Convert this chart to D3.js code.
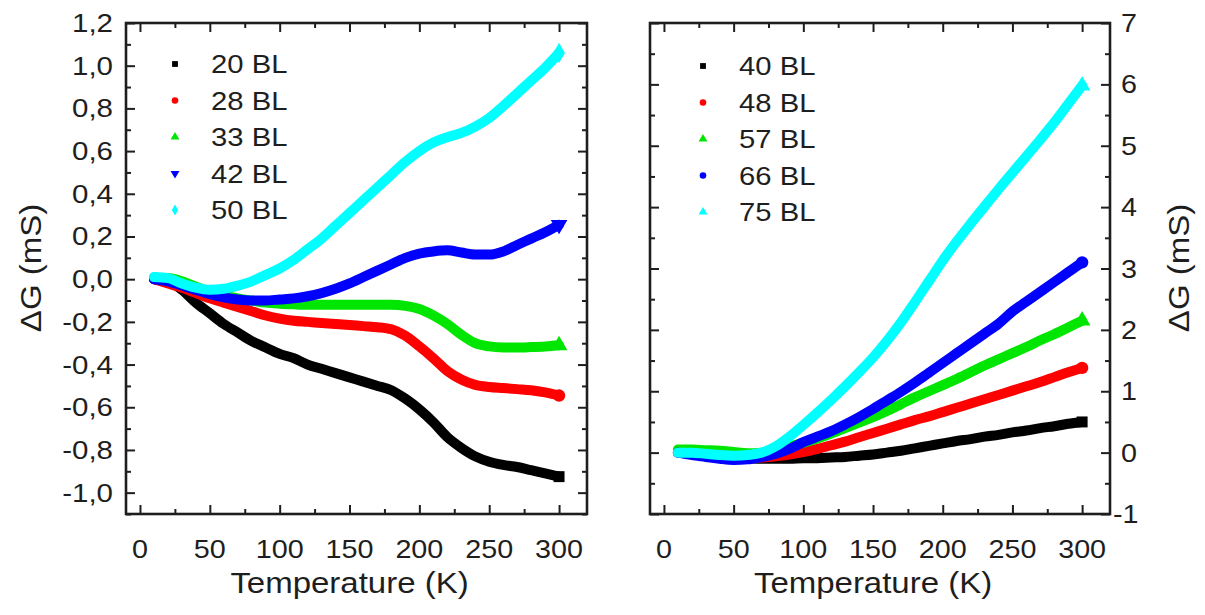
<!DOCTYPE html>
<html>
<head>
<meta charset="utf-8">
<script src="https://cdn.jsdelivr.net/npm/d3@7"></script>
<style>
  body { margin: 0; background: #fff; }
  text { font-family: "Liberation Sans", Arial, sans-serif; fill: #1e1e1e; }
</style>
</head>
<body>
<svg id="chart" width="1205" height="615"></svg>
<script>
// Temperature grid (K) shared by every series
const temps = [10, 20, 30, 40, 50, 60, 70, 80, 90, 100, 110, 120, 130, 140, 150,
               160, 170, 180, 190, 200, 210, 220, 230, 240, 250, 260, 270, 280, 290, 300];

// Left panel: ΔG (mS) for thinner films
const leftNames = ["20 BL", "28 BL", "33 BL", "42 BL", "50 BL"];
const bl20 = [0.0, -0.01, -0.05, -0.11, -0.16, -0.21, -0.25, -0.29, -0.32, -0.35, -0.37, -0.40, -0.42, -0.44, -0.46,
              -0.48, -0.50, -0.52, -0.56, -0.61, -0.67, -0.74, -0.79, -0.83, -0.855, -0.87, -0.88, -0.895, -0.91, -0.925];
const bl28 = [0.0, -0.02, -0.04, -0.065, -0.09, -0.11, -0.13, -0.15, -0.17, -0.185, -0.195, -0.2, -0.205, -0.21, -0.215,
              -0.22, -0.225, -0.235, -0.265, -0.315, -0.37, -0.43, -0.47, -0.495, -0.505, -0.51, -0.515, -0.52, -0.53, -0.545];
const bl33 = [0.005, 0.005, -0.01, -0.035, -0.06, -0.075, -0.09, -0.1, -0.11, -0.115, -0.118, -0.12, -0.12, -0.12, -0.12,
              -0.12, -0.12, -0.12, -0.125, -0.14, -0.17, -0.21, -0.26, -0.3, -0.315, -0.32, -0.32, -0.318, -0.315, -0.31];
const bl42 = [0.0, -0.01, -0.03, -0.05, -0.07, -0.085, -0.095, -0.1, -0.1, -0.095, -0.09, -0.08, -0.065, -0.045, -0.02,
              0.01, 0.04, 0.07, 0.1, 0.12, 0.13, 0.135, 0.125, 0.115, 0.115, 0.13, 0.16, 0.19, 0.22, 0.255];
const bl50 = [0.01, 0.005, -0.02, -0.04, -0.05, -0.045, -0.03, -0.01, 0.02, 0.05, 0.09, 0.14, 0.19, 0.25, 0.31,
              0.37, 0.43, 0.49, 0.55, 0.6, 0.64, 0.665, 0.685, 0.715, 0.755, 0.81, 0.87, 0.93, 0.99, 1.06];

// Right panel: ΔG (mS) for thicker films
const rightNames = ["40 BL", "48 BL", "57 BL", "66 BL", "75 BL"];
const bl40 = [0.0, -0.02, -0.04, -0.06, -0.08, -0.09, -0.1, -0.1, -0.1, -0.09, -0.09, -0.08, -0.07, -0.05, -0.03,
              0.0, 0.03, 0.07, 0.11, 0.15, 0.19, 0.22, 0.26, 0.29, 0.33, 0.36, 0.40, 0.43, 0.47, 0.50];
const bl48 = [0.0, -0.02, -0.04, -0.06, -0.08, -0.09, -0.08, -0.06, -0.03, 0.01, 0.06, 0.12, 0.18, 0.25, 0.32,
              0.39, 0.46, 0.53, 0.59, 0.66, 0.73, 0.80, 0.87, 0.94, 1.01, 1.08, 1.15, 1.23, 1.31, 1.38];
const bl57 = [0.05, 0.05, 0.04, 0.03, 0.01, -0.01, 0.0, 0.04, 0.1, 0.16, 0.23, 0.31, 0.4, 0.49, 0.58,
              0.68, 0.79, 0.9, 1.0, 1.1, 1.2, 1.31, 1.42, 1.52, 1.62, 1.72, 1.83, 1.93, 2.04, 2.15];
const bl66 = [0.0, -0.04, -0.07, -0.1, -0.12, -0.11, -0.07, -0.02, 0.06, 0.17, 0.26, 0.35, 0.46, 0.58, 0.71,
              0.85, 0.99, 1.14, 1.3, 1.46, 1.62, 1.78, 1.94, 2.1, 2.3, 2.46, 2.62, 2.78, 2.94, 3.1];
const bl75 = [0.0, 0.0, -0.02, -0.04, -0.05, -0.04, 0.0, 0.1, 0.26, 0.45, 0.65, 0.86, 1.08, 1.31, 1.55,
              1.82, 2.12, 2.45, 2.79, 3.13, 3.44, 3.73, 4.01, 4.29, 4.56, 4.83, 5.1, 5.38, 5.68, 5.98];

// Tick values
const xTicks = [0, 50, 100, 150, 200, 250, 300];
const xMinor = [25, 75, 125, 175, 225, 275];
const leftYTicks = [-1.0, -0.8, -0.6, -0.4, -0.2, 0.0, 0.2, 0.4, 0.6, 0.8, 1.0, 1.2];
const leftYMinor = [-1.1, -0.9, -0.7, -0.5, -0.3, -0.1, 0.1, 0.3, 0.5, 0.7, 0.9, 1.1];
const rightYTicks = [-1, 0, 1, 2, 3, 4, 5, 6, 7];
const rightYMinor = [-0.5, 0.5, 1.5, 2.5, 3.5, 4.5, 5.5, 6.5];

const colors = ["#000000", "#ff0000", "#00e600", "#0000ff", "#00ffff"];
const leftSymbols = [d3.symbolSquare, d3.symbolCircle, d3.symbolTriangle, "down", d3.symbolDiamond];
const rightSymbols = [d3.symbolSquare, d3.symbolCircle, d3.symbolTriangle, d3.symbolCircle, d3.symbolTriangle];

const comma = d3.formatLocale({decimal: ",", thousands: ".", grouping: [3], currency: ["", ""], minus: "-"});
const fmt1 = comma.format(".1f");
const fmt0 = comma.format("d");

const svg = d3.select("#chart");

function stretchedText(g, x, y, str, size, anchor, sx) {
  return g.append("text")
    .attr("transform", `translate(${x},${y}) scale(${sx},1)`)
    .attr("text-anchor", anchor)
    .style("font-size", size + "px")
    .text(str);
}

function symbolPath(kind, size) {
  if (kind === "down") return d3.symbol(d3.symbolTriangle, size)();
  return d3.symbol(kind, size)();
}

function panel(opts) {
  const x = d3.scaleLinear().domain([-10, 320]).range([opts.left, opts.right]);
  const y = d3.scaleLinear().domain(opts.yDomain).range([514, 23]);
  const g = svg.append("g");

  // series as thick bands of dense points
  const line = d3.line().x((d, i) => x(temps[i])).y(d => y(d)).curve(d3.curveMonotoneX);
  opts.series.forEach((s, k) => {
    g.append("path").datum(s)
      .attr("d", line)
      .attr("fill", "none")
      .attr("stroke", colors[k])
      .attr("stroke-width", 10)
      .attr("stroke-linecap", "round")
      .attr("stroke-linejoin", "round");
  });

  // tick marks on all four sides, pointing inward
  const tick = (axis) => axis.tickFormat("").tickSizeOuter(0);
  const addAxis = (ax, transform) => {
    const a = g.append("g").attr("transform", transform).call(ax);
    a.select(".domain").remove();
    a.selectAll("line").attr("stroke", "#1e1e1e").attr("stroke-width", 2);
  };
  addAxis(tick(d3.axisBottom(x).tickValues(xTicks).tickSize(-9)), "translate(0,514)");
  addAxis(tick(d3.axisBottom(x).tickValues(xMinor).tickSize(-5)), "translate(0,514)");
  addAxis(tick(d3.axisTop(x).tickValues(xTicks).tickSize(-9)), "translate(0,23)");
  addAxis(tick(d3.axisTop(x).tickValues(xMinor).tickSize(-5)), "translate(0,23)");
  addAxis(tick(d3.axisLeft(y).tickValues(opts.yTicks).tickSize(-9)), `translate(${opts.left},0)`);
  addAxis(tick(d3.axisLeft(y).tickValues(opts.yMinor).tickSize(-5)), `translate(${opts.left},0)`);
  addAxis(tick(d3.axisRight(y).tickValues(opts.yTicks).tickSize(-9)), `translate(${opts.right},0)`);
  addAxis(tick(d3.axisRight(y).tickValues(opts.yMinor).tickSize(-5)), `translate(${opts.right},0)`);

  // frame
  g.append("rect")
    .attr("x", opts.left).attr("y", 23)
    .attr("width", opts.right - opts.left).attr("height", 514 - 23)
    .attr("fill", "none").attr("stroke", "#1e1e1e").attr("stroke-width", 2.6);

  // x tick labels
  xTicks.forEach(t => stretchedText(g, x(t), 558, String(t), 25, "middle", 1.15));

  // y tick labels
  opts.yTicks.forEach(t => {
    if (opts.labelsOnRight) {
      const lx = t < 0 ? opts.right + 3 : opts.right + 11;
      stretchedText(g, lx, y(t) + 9, opts.fmt(t), 25, "start", 1.15);
    } else {
      stretchedText(g, opts.left - 13, y(t) + 9, opts.fmt(t), 25, "end", 1.18);
    }
  });

  // axis titles
  stretchedText(g, (x(0) + x(300)) / 2, 593, "Temperature (K)", 30, "middle", 1.1);
  g.append("text")
    .attr("transform", `translate(${opts.yTitleX},${268}) rotate(-90) scale(1.1,1)`)
    .attr("text-anchor", "middle")
    .style("font-size", "30px")
    .text("ΔG (mS)");

  // legend
  opts.names.forEach((name, k) => {
    const ly = opts.legendY + k * 36.5;
    const sym = opts.symbols[k];
    g.append("path")
      .attr("d", symbolPath(sym, 34))
      .attr("transform", `translate(${opts.legendX},${ly})` + (sym === "down" ? " rotate(180)" : ""))
      .attr("fill", colors[k]);
    stretchedText(g, opts.legendX + 36, ly + 9, name, 25, "start", 1.17);
  });

  // end-point markers
  opts.series.forEach((s, k) => {
    const sym = opts.symbols[k];
    g.append("path")
      .attr("d", symbolPath(sym, 120))
      .attr("transform", `translate(${x(temps[temps.length - 1])},${y(s[s.length - 1])})` + (sym === "down" ? " rotate(180)" : ""))
      .attr("fill", colors[k]);
  });
}

panel({
  left: 126, right: 587, yDomain: [-1.1, 1.2],
  yTicks: leftYTicks, yMinor: leftYMinor, fmt: fmt1, labelsOnRight: false,
  yTitleX: 41, series: [bl20, bl28, bl33, bl42, bl50], names: leftNames,
  symbols: leftSymbols, legendX: 175, legendY: 64
});

panel({
  left: 650, right: 1110, yDomain: [-1, 7],
  yTicks: rightYTicks, yMinor: rightYMinor, fmt: fmt0, labelsOnRight: true,
  yTitleX: 1189, series: [bl40, bl48, bl57, bl66, bl75], names: rightNames,
  symbols: rightSymbols, legendX: 703, legendY: 66
});
</script>
</body>
</html>
